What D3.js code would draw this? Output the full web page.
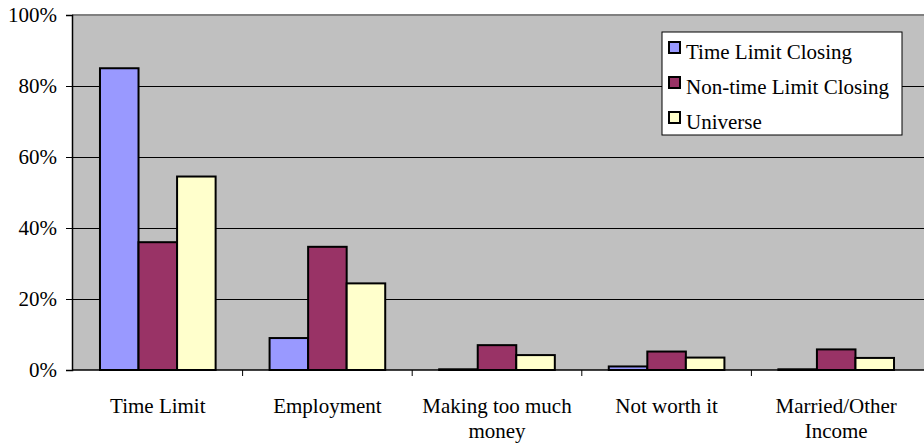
<!DOCTYPE html>
<html>
<head>
<meta charset="utf-8">
<script src="https://cdn.jsdelivr.net/npm/d3@7"></script>
<style>
  html, body { margin: 0; padding: 0; background: #fff; }
  svg { display: block; }
  svg text { font-family: "Liberation Serif", "Times New Roman", serif; fill: #000; }
</style>
</head>
<body>
<svg id="chart" width="924" height="444"></svg>
<script>
// Reasons for case closing, share of cases by group
const categories = ["Time Limit", "Employment", "Making too much money", "Not worth it", "Married/Other Income"];
const categoryLines = [["Time Limit"], ["Employment"], ["Making too much", "money"], ["Not worth it"], ["Married/Other", "Income"]];
const seriesNames = ["Time Limit Closing", "Non-time Limit Closing", "Universe"];
const timeLimitClosing = [0.85, 0.09, 0.002, 0.010, 0.002];
const nonTimeLimitClosing = [0.36, 0.347, 0.070, 0.052, 0.058];
const universe = [0.545, 0.244, 0.042, 0.035, 0.034];
const seriesValues = [timeLimitClosing, nonTimeLimitClosing, universe];
const seriesColors = ["#9999FF", "#993366", "#FFFFCC"];
const yTicks = [0, 0.2, 0.4, 0.6, 0.8, 1.0];

const serif = "'Liberation Serif', 'Times New Roman', serif";
const svg = d3.select("#chart");
const plot = { left: 72, right: 924, top: 15, bottom: 370 };

const x0 = d3.scaleBand().domain(categories).range([73, 921]).paddingInner(0).paddingOuter(0);
const x1 = d3.scaleBand().domain(seriesNames).range([0, x0.bandwidth()]).paddingInner(0).paddingOuter(0.7);
const y = d3.scaleLinear().domain([0, 1]).range([plot.bottom, plot.top]);

// Plot background
svg.append("rect")
  .attr("x", plot.left).attr("y", plot.top)
  .attr("width", plot.right - plot.left).attr("height", plot.bottom - plot.top)
  .attr("fill", "#C0C0C0");

// Top border
svg.append("line")
  .attr("x1", plot.left).attr("x2", plot.right)
  .attr("y1", plot.top).attr("y2", plot.top)
  .attr("stroke", "#808080").attr("stroke-width", 2);

// Horizontal gridlines
svg.append("g").selectAll("line")
  .data(yTicks.filter(t => t > 0 && t < 1))
  .join("line")
  .attr("x1", plot.left).attr("x2", plot.right)
  .attr("y1", d => Math.round(y(d)) + 0.5).attr("y2", d => Math.round(y(d)) + 0.5)
  .attr("stroke", "#000").attr("stroke-width", 1);

// Bars
const rows = categories.map((c, i) => ({ cat: c, vals: seriesNames.map((s, j) => ({ s, v: seriesValues[j][i], color: seriesColors[j] })) }));
svg.append("g").selectAll("g")
  .data(rows)
  .join("g")
  .attr("transform", d => `translate(${x0(d.cat)},0)`)
  .selectAll("rect")
  .data(d => d.vals)
  .join("rect")
  .attr("x", d => x1(d.s))
  .attr("y", d => y(d.v))
  .attr("width", x1.bandwidth())
  .attr("height", d => Math.max(0.5, y(0) - y(d.v)))
  .attr("fill", d => d.color)
  .attr("stroke", "#000")
  .attr("stroke-width", 2);

// Y axis
const yAxis = d3.axisLeft(y).tickValues(yTicks).tickFormat(d3.format(".0%")).tickSize(6).tickPadding(9);
const gy = svg.append("g").attr("transform", `translate(${plot.left},0)`).call(yAxis);
gy.attr("font-family", null).attr("font-size", null);
gy.select(".domain").attr("stroke", "#000").attr("stroke-width", 1.5);
gy.selectAll(".tick line").attr("stroke", "#000");
gy.selectAll(".tick text")
  .style("font-family", serif)
  .style("font-size", "21px")
  .attr("fill", "#000");

// X axis line and category tick marks
svg.append("line")
  .attr("x1", plot.left).attr("x2", plot.right)
  .attr("y1", plot.bottom).attr("y2", plot.bottom)
  .attr("stroke", "#000").attr("stroke-width", 1.5);
svg.append("g").selectAll("line")
  .data(categories.slice(1))
  .join("line")
  .attr("x1", d => x0(d)).attr("x2", d => x0(d))
  .attr("y1", plot.bottom).attr("y2", plot.bottom + 6)
  .attr("stroke", "#000");

// Category labels
const catLabels = svg.append("g").selectAll("text")
  .data(categories)
  .join("text")
  .attr("x", d => x0(d) + x0.bandwidth() / 2)
  .attr("y", 413)
  .attr("text-anchor", "middle")
  .style("font-family", serif)
  .style("font-size", "21px");
catLabels.selectAll("tspan")
  .data((d, i) => categoryLines[i])
  .join("tspan")
  .attr("x", function () { return this.parentNode.getAttribute("x"); })
  .attr("dy", (d, i) => i === 0 ? 0 : 25)
  .text(d => d);

// Legend
const legend = svg.append("g").attr("transform", "translate(662,32)");
legend.append("rect")
  .attr("x", 0).attr("y", 0).attr("width", 240).attr("height", 103)
  .attr("fill", "#fff").attr("stroke", "#000").attr("stroke-width", 1);
const items = legend.selectAll("g.item")
  .data(seriesNames)
  .join("g")
  .attr("class", "item")
  .attr("transform", (d, i) => `translate(0,${i * 35})`);
items.append("rect")
  .attr("x", 7).attr("y", 10).attr("width", 11).attr("height", 11)
  .attr("fill", (d, i) => seriesColors[i])
  .attr("stroke", "#000").attr("stroke-width", 2);
items.append("text")
  .attr("x", 24).attr("y", 27)
  .style("font-family", serif)
  .style("font-size", "21px")
  .text(d => d);
</script>
</body>
</html>
